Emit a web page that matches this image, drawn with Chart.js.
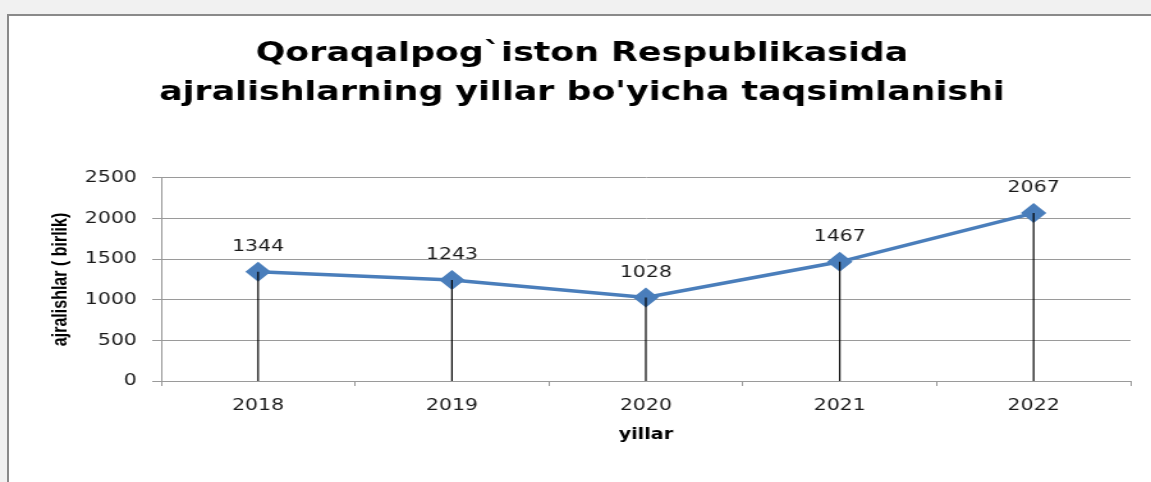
<!DOCTYPE html>
<html>
<head>
<meta charset="utf-8">
<title>Ajralishlar</title>
<script src="https://cdn.jsdelivr.net/npm/chart.js@4.4.1/dist/chart.umd.min.js"></script>
<style>
  html, body { margin: 0; padding: 0; }
  body { width: 1151px; height: 482px; overflow: hidden; position: relative; background: #f1f1f1; }
  #frame { position: absolute; left: 7px; top: 14px; right: -6px; bottom: -6px; background: #fff; border: 2px solid #8a8a8a; }
  /* the source picture is stretched sideways, so the chart is too */
  #wrap { position: absolute; left: 0; top: 0; width: 900px; height: 482px; transform: scaleX(1.2789); transform-origin: 0 0; }
</style>
</head>
<body>
<div id="frame"></div>
<div id="wrap"><canvas id="chart"></canvas></div>
<script>
const years = ['2018', '2019', '2020', '2021', '2022'];
const divorces = [1344, 1243, 1028, 1467, 2067];
const yTicks = [0, 500, 1000, 1500, 2000, 2500];

const titleLines = ['Qoraqalpog`iston Respublikasida', "ajralishlarning yillar bo'yicha taqsimlanishi"];
const yTitle = 'ajralishlar ( birlik)';
const xTitle = 'yillar';

// black drop line from each point down to the x axis
const dropLines = {
  id: 'dropLines',
  afterDatasetsDraw(chart) {
    const ctx = chart.ctx;
    const bottom = chart.scales.y.getPixelForValue(0);
    ctx.save();
    ctx.strokeStyle = '#000';
    ctx.lineWidth = 1.2;
    chart.getDatasetMeta(0).data.forEach(pt => {
      ctx.beginPath();
      ctx.moveTo(pt.x, pt.y);
      ctx.lineTo(pt.x, bottom);
      ctx.stroke();
    });
    ctx.restore();
  }
};

// value labels above the points
const valueLabels = {
  id: 'valueLabels',
  afterDatasetsDraw(chart) {
    const ctx = chart.ctx;
    const values = chart.data.datasets[0].data;
    ctx.save();
    ctx.font = '16px "DejaVu Sans"';
    ctx.fillStyle = '#1a1a1a';
    ctx.textAlign = 'center';
    ctx.textBaseline = 'middle';
    chart.getDatasetMeta(0).data.forEach((pt, i) => {
      ctx.fillText(String(values[i]), pt.x, pt.y - 25);
    });
    ctx.restore();
  }
};

const ctx = document.getElementById('chart').getContext('2d');
new Chart(ctx, {
  type: 'line',
  data: {
    labels: years,
    datasets: [{
      data: divorces,
      borderColor: '#4a7ebb',
      backgroundColor: '#4a7ebb',
      borderWidth: 3.5,
      pointStyle: 'rectRot',
      pointRadius: 7.5,
      pointHoverRadius: 7.5,
      fill: false,
      tension: 0
    }]
  },
  options: {
    responsive: true,
    maintainAspectRatio: false,
    animation: false,
    events: [],
    layout: { padding: { left: 26, right: 16, top: 0, bottom: 0 } },
    plugins: {
      legend: { display: false },
      tooltip: { enabled: false },
      title: {
        display: true,
        text: titleLines,
        color: '#000',
        font: { family: '"DejaVu Sans"', size: 27.2, weight: 'bold', lineHeight: 1.45 },
        padding: { top: 34, bottom: 65 }
      }
    },
    scales: {
      x: {
        offset: true,
        afterFit(scale) { scale.height = 101; },
        grid: { offset: true, drawOnChartArea: false, tickLength: 5, color: '#9a9a9a' },
        border: { color: '#9a9a9a' },
        ticks: { color: '#1a1a1a', padding: 10, font: { family: '"DejaVu Sans"', size: 16 } },
        title: {
          display: true,
          text: xTitle,
          color: '#000',
          font: { family: '"DejaVu Sans"', size: 15, weight: 'bold', lineHeight: 1.2 },
          padding: { bottom: 38 }
        }
      },
      y: {
        min: 0,
        max: 2500,
        afterFit(scale) { scale.width = 100; },
        afterBuildTicks(scale) { scale.ticks = yTicks.map(v => ({ value: v })); },
        grid: { color: '#9a9a9a', tickLength: 7 },
        border: { color: '#9a9a9a' },
        ticks: {
          color: '#1a1a1a',
          padding: 12,
          font: { family: '"DejaVu Sans"', size: 16 },
          callback: v => String(v)
        },
        title: {
          display: true,
          text: yTitle,
          color: '#000',
          font: { family: '"Liberation Sans Narrow", "Liberation Sans"', size: 16, weight: 'bold', lineHeight: 1.2 },
          padding: { top: 12 }
        }
      }
    }
  },
  plugins: [dropLines, valueLabels]
});
</script>
</body>
</html>
